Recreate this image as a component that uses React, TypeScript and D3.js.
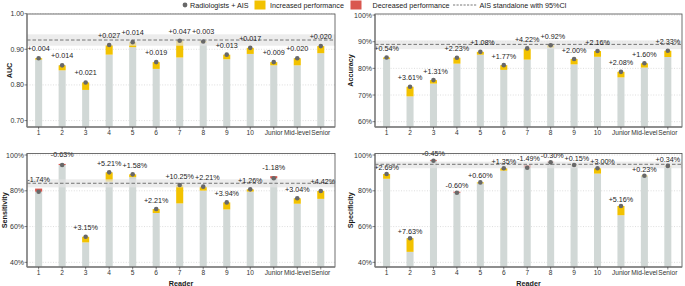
import React from "react";
import * as d3 from "d3";

const readers = ["1", "2", "3", "4", "5", "6", "7", "8", "9", "10", "Junior", "Mid-level", "Senior"];

// AUC (Radiologists + AIS) and change vs radiologists alone
const aucWithAIS = [0.875, 0.855, 0.807, 0.912, 0.92, 0.864, 0.924, 0.922, 0.885, 0.904, 0.864, 0.875, 0.909];
const aucDelta = [0.004, 0.014, 0.021, 0.027, 0.014, 0.019, 0.047, 0.003, 0.013, 0.017, 0.009, 0.02, 0.02];
const aucStandalone = [0.926, 0.91, 0.942]; // estimate, lower CI, upper CI
const aucTicks = [0.7, 0.8, 0.9, 1.0];

// Accuracy (%)
const accWithAIS = [84.1, 73.1, 75.6, 84.0, 86.2, 81.2, 87.5, 88.7, 83.5, 86.5, 78.7, 81.9, 86.6];
const accDelta = [0.54, 3.61, 1.31, 2.23, 1.08, 1.77, 4.22, 0.92, 2.0, 2.16, 2.08, 1.6, 2.33];
const accStandalone = [89.0, 87.2, 90.5];
const accTicks = [60, 70, 80, 90, 100];

// Sensitivity (%)
const senWithAIS = [79.5, 94.4, 54.3, 90.3, 89.2, 69.8, 83.2, 82.3, 73.5, 80.8, 87.0, 75.8, 79.9];
const senDelta = [-1.74, -0.63, 3.15, 5.21, 1.58, 2.21, 10.25, 2.21, 3.94, 1.26, -1.18, 3.04, 4.42];
const senStandalone = [84.2, 81.9, 86.4];
const senTicks = [40, 60, 80, 100];

// Specificity (%)
const speWithAIS = [89.4, 53.5, 96.8, 78.9, 84.7, 92.6, 92.9, 95.9, 94.4, 92.6, 71.5, 88.4, 93.9];
const speDelta = [2.69, 7.63, -0.45, -0.6, 0.6, 1.35, -1.49, -0.3, 0.15, 3.0, 5.16, 0.23, 0.34];
const speStandalone = [94.8, 92.6, 96.3];
const speTicks = [40, 60, 80, 100];

const legendLabels = ["Radiologists + AIS", "Increased performance", "Decreased performance", "AIS standalone with 95%CI"];

const COL = { bar: "#d1d8d6", up: "#f2c200", down: "#d9574f", dot: "#686868", text: "#1a1a1a", tick: "#333333" };
const FONT = "'Liberation Sans', Arial, Helvetica, sans-serif";
const LABEL_SIZE = 7.2;

const fmtAuc = (d: number) => (d >= 0 ? "+" : "-") + Math.abs(d).toFixed(3);
const fmtPct = (d: number) => (d >= 0 ? "+" : "-") + Math.abs(d).toFixed(2) + "%";

let measureCtx: CanvasRenderingContext2D | null = null;
function textWidth(s: string, size: number): number {
  try {
    if (!measureCtx) measureCtx = document.createElement("canvas").getContext("2d");
    if (measureCtx) {
      measureCtx.font = `${size}px 'Liberation Sans', Arial, sans-serif`;
      return measureCtx.measureText(s).width;
    }
  } catch (e) {
    /* ignore */
  }
  return s.length * size * 0.56;
}

type Cfg = {
  title: string;
  values: number[];
  deltas: number[];
  ais: number[];
  ticks: number[];
  tickFmt: (v: number) => string;
  labelFmt: (v: number) => string;
  domain: [number, number];
  x0: number;
  x1: number;
  y0: number;
  y1: number;
  titleX: number;
  labelOff: number;
  showXTitle: boolean;
};

function Panel({ c }: { c: Cfg }) {
  const x = d3.scalePoint<string>().domain(readers).range([c.x0, c.x1]).padding(0.55).align(0.45);
  const y = d3.scaleLinear().domain(c.domain).range([c.y1, c.y0]);
  const bw = x.step() * 0.3;
  const bottom = y(c.domain[0]);
  const rows = readers.map((r, i) => {
    const ai = c.values[i];
    const base = ai - c.deltas[i];
    return { r, ai, base, lo: Math.min(ai, base), hi: Math.max(ai, base), up: c.deltas[i] >= 0, d: c.deltas[i] };
  });
  // simple left-to-right label repulsion (like ggrepel pushing neighbours apart)
  const labels = rows.map((d) => {
    const text = c.labelFmt(d.d);
    const w = textWidth(text, LABEL_SIZE);
    return { key: d.r, text, w, cx: x(d.r)!, cy: y(d.hi) - c.labelOff };
  });
  for (let i = 1; i < labels.length; i++) {
    for (let j = 0; j < i; j++) {
      const a = labels[j];
      const b = labels[i];
      if (Math.abs(a.cy - b.cy) < 7.5) {
        const overlap = a.cx + a.w / 2 + 1 - (b.cx - b.w / 2);
        if (overlap > 0) b.cx += overlap;
      }
    }
  }
  return (
    <g>
      {c.ticks.map((t) => (
        <line key={"g" + t} x1={c.x0} x2={c.x1} y1={y(t)} y2={y(t)} stroke="#c8c8c8" strokeWidth={0.6} strokeDasharray="1,1.6" />
      ))}
      {rows.map((d) => (
        <rect key={"b" + d.r} x={x(d.r)! - bw / 2} width={bw} y={y(d.lo)} height={bottom - y(d.lo)} fill={COL.bar} />
      ))}
      {rows.map((d) => (
        <rect key={"c" + d.r} x={x(d.r)! - bw / 2} width={bw} y={y(d.hi)} height={y(d.lo) - y(d.hi)} fill={d.up ? COL.up : COL.down} />
      ))}
      <rect x={c.x0} width={c.x1 - c.x0} y={y(c.ais[2])} height={y(c.ais[1]) - y(c.ais[2])} fill="#e4e4e4" opacity={0.7} />
      <line x1={c.x0} x2={c.x1} y1={y(c.ais[0])} y2={y(c.ais[0])} stroke="#555" strokeWidth={0.8} strokeDasharray="3.5,2" />
      {rows.map((d) => (
        <circle key={"p" + d.r} cx={x(d.r)!} cy={y(d.ai)} r={2.3} fill={COL.dot} />
      ))}
      {labels.map((l) => (
        <text key={"l" + l.key} x={l.cx} y={l.cy} textAnchor="middle" dominantBaseline="central" fontSize={LABEL_SIZE} fill={COL.text}>
          {l.text}
        </text>
      ))}
      <rect x={c.x0} y={c.y0} width={c.x1 - c.x0} height={c.y1 - c.y0} fill="none" stroke="#4d4d4d" strokeWidth={0.8} />
      <line x1={c.x0} x2={c.x0} y1={c.y0} y2={c.y1} stroke="#808080" strokeWidth={1.3} />
      <line x1={c.x0} x2={c.x1} y1={c.y1} y2={c.y1} stroke="#808080" strokeWidth={1.3} />
      {c.ticks.map((t) => (
        <g key={"t" + t}>
          <line x1={c.x0 - 2.5} x2={c.x0} y1={y(t)} y2={y(t)} stroke={COL.tick} strokeWidth={0.6} />
          <text x={c.x0 - 3} y={y(t)} textAnchor="end" dominantBaseline="central" fontSize={7} fill={COL.tick}>
            {c.tickFmt(t)}
          </text>
        </g>
      ))}
      {readers.map((r) => (
        <g key={"x" + r}>
          <line x1={x(r)!} x2={x(r)!} y1={c.y1} y2={c.y1 + 2.5} stroke={COL.tick} strokeWidth={0.6} />
          <text x={x(r)!} y={c.y1 + 5.5} textAnchor="middle" dominantBaseline="central" fontSize={6.6} fill={COL.tick}>
            {r}
          </text>
        </g>
      ))}
      <text
        transform={`translate(${c.titleX},${(c.y0 + c.y1) / 2}) rotate(-90)`}
        textAnchor="middle"
        dominantBaseline="central"
        fontSize={7.2}
        fontWeight="bold"
        fill={COL.text}
      >
        {c.title}
      </text>
      {c.showXTitle && (
        <text x={(c.x0 + c.x1) / 2} y={283} textAnchor="middle" dominantBaseline="central" fontSize={7.2} fontWeight="bold" fill={COL.text}>
          Reader
        </text>
      )}
    </g>
  );
}

export default function App() {
  const pct = (v: number) => v + "%";
  const panels: Cfg[] = [
    {
      title: "AUC", values: aucWithAIS, deltas: aucDelta, ais: aucStandalone, ticks: aucTicks,
      tickFmt: (v) => v.toFixed(2), labelFmt: fmtAuc, domain: [0.682, 0.999],
      x0: 27, x1: 335, y0: 14, y1: 127, titleX: 9, labelOff: 9.5, showXTitle: false,
    },
    {
      title: "Accuracy", values: accWithAIS, deltas: accDelta, ais: accStandalone, ticks: accTicks,
      tickFmt: pct, labelFmt: fmtPct, domain: [58.0, 100.4],
      x0: 375, x1: 682, y0: 14, y1: 127, titleX: 350.5, labelOff: 9, showXTitle: false,
    },
    {
      title: "Sensitivity", values: senWithAIS, deltas: senDelta, ais: senStandalone, ticks: senTicks,
      tickFmt: pct, labelFmt: fmtPct, domain: [37.4, 100.84],
      x0: 27, x1: 335, y0: 153.5, y1: 267, titleX: 4.5, labelOff: 9, showXTitle: true,
    },
    {
      title: "Specificity", values: speWithAIS, deltas: speDelta, ais: speStandalone, ticks: speTicks,
      tickFmt: pct, labelFmt: fmtPct, domain: [37.4, 100.84],
      x0: 375, x1: 682, y0: 153.5, y1: 267, titleX: 350, labelOff: 6.5, showXTitle: true,
    },
  ];
  const ly = 5;
  return (
    <svg width={685} height={286} style={{ position: "absolute", left: 0, top: 0, background: "#fff" }} fontFamily={FONT}>
      <rect width={685} height={286} fill="#fff" />
      {/* legend */}
      <g fontSize={7.2} fill={COL.text}>
        <circle cx={185} cy={ly} r={2.4} fill={COL.dot} />
        <text x={190} y={ly} dominantBaseline="central">{legendLabels[0]}</text>
        <rect x={254.5} y={0.5} width={11} height={9} fill={COL.up} />
        <text x={270} y={ly} dominantBaseline="central">{legendLabels[1]}</text>
        <rect x={350.5} y={0.5} width={11} height={9} fill={COL.down} />
        <text x={372.5} y={ly} dominantBaseline="central">{legendLabels[2]}</text>
        <line x1={453} x2={477} y1={ly} y2={ly} stroke="#555" strokeWidth={0.8} strokeDasharray="2.2,1.3" />
        <text x={479.5} y={ly} dominantBaseline="central">{legendLabels[3]}</text>
      </g>
      {panels.map((c) => (
        <Panel key={c.title} c={c} />
      ))}
    </svg>
  );
}
